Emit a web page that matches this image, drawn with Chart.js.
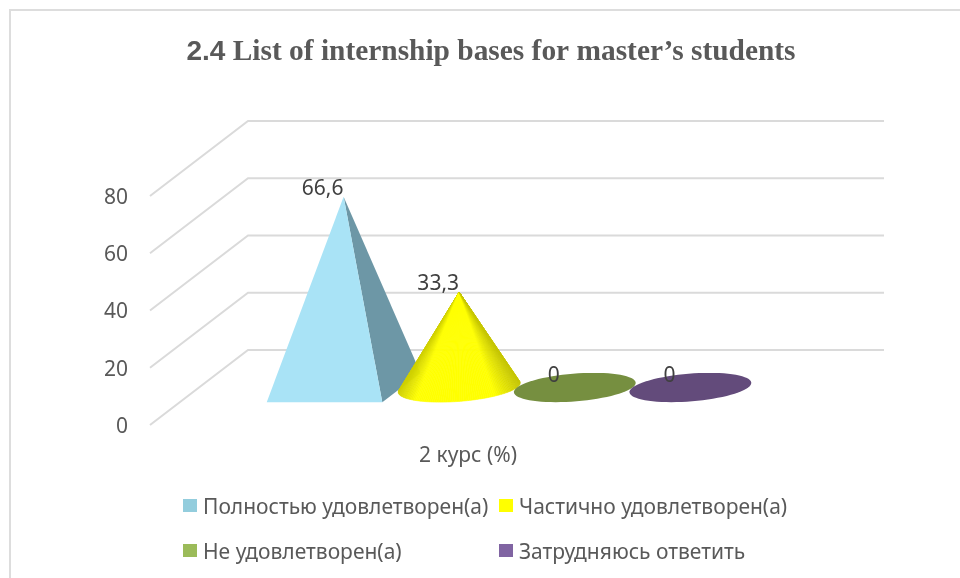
<!DOCTYPE html>
<html>
<head>
<meta charset="utf-8">
<title>2.4 List of internship bases</title>
<script src="https://cdn.jsdelivr.net/npm/chart.js@4/dist/chart.umd.min.js"></script>
<style>
    html, body { margin: 0; padding: 0; background: #fff; }
    canvas { display: block; }
</style>
</head>
<body>
<canvas id="chart" width="960" height="578"></canvas>
<script>
// Data
const titleNumber = '2.4';
const titleText = ' List of internship bases for master\u2019s students';
const categories = ['2 курс (%)'];
const seriesNames = ['Полностью удовлетворен(а)', 'Частично удовлетворен(а)', 'Не удовлетворен(а)', 'Затрудняюсь ответить'];
const seriesValues = [66.6, 33.3, 0, 0];
const legendColors = ['#93CDDD', '#FFFF00', '#9BBB59', '#8064A2'];
const shapeColors = ['#A9E3F6', '#FFFF00', '#768F40', '#634B7B'];
const tickValues = [0, 20, 40, 60, 80];

const uiFont = '"Noto Sans", sans-serif';
const textColor = '#595959';
const gridColor = '#DADADA';

// Wall depth: how far the back wall sits from the front plane
const depthX = 98;
const depthY = -75;
const baseDepth = 0.39; // part of the depth taken by a base

function drawFrame(ctx) {
    ctx.save();
    ctx.strokeStyle = '#DDDDDD';
    ctx.lineWidth = 2;
    ctx.beginPath();
    ctx.moveTo(10, 578);
    ctx.lineTo(10, 10);
    ctx.lineTo(960, 10);
    ctx.stroke();
    ctx.restore();
}

function drawTitle(ctx) {
    ctx.save();
    ctx.fillStyle = textColor;
    ctx.textBaseline = 'alphabetic';
    ctx.textAlign = 'left';
    const numFont = 'bold 28px "Liberation Sans", sans-serif';
    const txtFont = 'bold 29.4px "Liberation Serif", serif';
    ctx.font = numFont;
    const w1 = ctx.measureText(titleNumber).width;
    ctx.font = txtFont;
    const w2 = ctx.measureText(titleText).width;
    const x = 491 - (w1 + w2) / 2;
    ctx.font = numFont;
    ctx.fillText(titleNumber, x, 60);
    ctx.font = txtFont;
    ctx.fillText(titleText, x + w1, 60);
    ctx.restore();
}

function drawWalls(chart) {
    const ctx = chart.ctx;
    const y = chart.scales.y;
    const area = chart.chartArea;
    ctx.save();
    ctx.strokeStyle = gridColor;
    ctx.lineWidth = 2;
    tickValues.forEach(v => {
        const py = y.getPixelForValue(v);
        ctx.beginPath();
        ctx.moveTo(area.left, py);
        ctx.lineTo(area.left + depthX, py + depthY);
        ctx.lineTo(area.right + depthX, py + depthY);
        ctx.stroke();
    });
    ctx.restore();
}

function drawPyramid(ctx, c, top, u, v, color) {
    const fl = [c.x - u.x - v.x, c.y - u.y - v.y];
    const fr = [c.x + u.x - v.x, c.y + u.y - v.y];
    const br = [c.x + u.x + v.x, c.y + u.y + v.y];
    ctx.fillStyle = '#6D97A6';
    ctx.beginPath();
    ctx.moveTo(fr[0], fr[1]);
    ctx.lineTo(br[0], br[1]);
    ctx.lineTo(c.x, top);
    ctx.closePath();
    ctx.fill();
    ctx.fillStyle = color;
    ctx.beginPath();
    ctx.moveTo(fl[0], fl[1]);
    ctx.lineTo(fr[0], fr[1]);
    ctx.lineTo(c.x, top);
    ctx.closePath();
    ctx.fill();
}

// Base circle projected on the floor: c + cos(t)*u + sin(t)*v
function ellipsePoint(c, u, v, t) {
    return [c.x + Math.cos(t) * u.x + Math.sin(t) * v.x, c.y + Math.cos(t) * u.y + Math.sin(t) * v.y];
}

// Shading of the cone side, f goes from left (0) to right (1)
function coneShade(f) {
    let k = 1;
    if (f < 0.14) k = 0.82 + 0.18 * f / 0.14;
    if (f > 0.8) k = 1 - 0.22 * (f - 0.8) / 0.2;
    return 'rgb(' + Math.round(255 * k) + ',' + Math.round(255 * k) + ',0)';
}

function drawCone(ctx, c, top, u, v) {
    const b = (top - c.y) / v.y;
    const a = -b * v.x / u.x;
    const theta = Math.atan2(b, a);
    const spread = Math.acos(1 / Math.hypot(a, b));
    const from = theta + spread;
    const to = theta + Math.PI * 2 - spread;
    const start = ellipsePoint(c, u, v, from)[0];
    const end = ellipsePoint(c, u, v, to)[0];
    const steps = 90;
    ctx.lineWidth = 0.6;
    for (let i = 0; i < steps; i++) {
        const p = ellipsePoint(c, u, v, from + (to - from) * i / steps);
        const q = ellipsePoint(c, u, v, from + (to - from) * (i + 1) / steps);
        const color = coneShade(((p[0] + q[0]) / 2 - start) / (end - start));
        ctx.fillStyle = color;
        ctx.strokeStyle = color;
        ctx.beginPath();
        ctx.moveTo(p[0], p[1]);
        ctx.lineTo(q[0], q[1]);
        ctx.lineTo(c.x, top);
        ctx.closePath();
        ctx.fill();
        ctx.stroke();
    }
}

function drawDisc(ctx, c, u, v, color) {
    ctx.fillStyle = color;
    ctx.beginPath();
    for (let i = 0; i < 72; i++) {
        const p = ellipsePoint(c, u, v, Math.PI * 2 * i / 72);
        if (i === 0) ctx.moveTo(p[0], p[1]); else ctx.lineTo(p[0], p[1]);
    }
    ctx.closePath();
    ctx.fill();
}

function drawValueLabel(ctx, text, x, y) {
    ctx.fillStyle = '#404040';
    ctx.font = '21px ' + uiFont;
    ctx.textAlign = 'center';
    ctx.textBaseline = 'middle';
    ctx.fillText(text, x, y);
}

const shapes3d = {
    id: 'shapes3d',
    afterLayout(chart) {
        // Noto Sans sits high on a middle baseline, nudge the y tick labels down
        chart.scales.y.getLabelItems().forEach(item => {
            item.options.translation[1] += 2;
        });
    },
    beforeDatasetsDraw(chart) {
        drawFrame(chart.ctx);
        drawTitle(chart.ctx);
        drawWalls(chart);
    },
    afterDatasetsDraw(chart) {
        const ctx = chart.ctx;
        ctx.save();
        const bars = chart.data.datasets.map((ds, i) => chart.getDatasetMeta(i).data[0]);
        bars.forEach((bar, i) => {
            const u = { x: bar.width / 2, y: 0 };
            const v = { x: depthX * baseDepth / 2, y: depthY * baseDepth / 2 };
            const c = { x: bar.x + depthX / 2, y: bar.base + depthY / 2 };
            const top = bar.y + depthY / 2;
            if (seriesValues[i] === 0) drawDisc(ctx, c, u, v, shapeColors[i]);
            else if (i === 0) drawPyramid(ctx, c, top, u, v, shapeColors[i]);
            else drawCone(ctx, c, top, u, v);
        });
        bars.forEach((bar, i) => {
            const text = String(seriesValues[i]).replace('.', ',');
            const lift = seriesValues[i] === 0 ? 11 : 8;
            drawValueLabel(ctx, text, bar.x + depthX / 2 - 21, bar.y + depthY / 2 - lift);
        });
        ctx.restore();
    },
    afterDraw(chart) {
        // Legend on a fixed two by two grid
        const ctx = chart.ctx;
        const cols = [183, 499];
        const rows = [506, 551];
        ctx.save();
        ctx.font = '21px ' + uiFont;
        ctx.textAlign = 'left';
        ctx.textBaseline = 'middle';
        chart.data.datasets.forEach((ds, i) => {
            const x = cols[i % 2];
            const y = rows[Math.floor(i / 2)];
            ctx.fillStyle = legendColors[i];
            ctx.fillRect(x, y - 7, 14, 13);
            ctx.fillStyle = textColor;
            ctx.fillText(ds.label, x + 20, y + 2);
        });
        ctx.restore();
    }
};

new Chart(document.getElementById('chart'), {
    type: 'bar',
    data: {
        labels: categories,
        datasets: seriesNames.map((name, i) => ({
            label: name,
            data: [seriesValues[i]],
            backgroundColor: 'rgba(0,0,0,0)'
        }))
    },
    options: {
        responsive: false,
        animation: false,
        layout: { padding: { left: 100, right: 174, top: 196, bottom: 93 } },
        categoryPercentage: 0.727,
        barPercentage: 1,
        plugins: { legend: { display: false }, title: { display: false }, tooltip: { enabled: false } },
        scales: {
            x: {
                afterFit(scale) { scale.height = 60; },
                grid: { display: false },
                border: { display: false },
                ticks: { color: textColor, padding: 10, font: { family: uiFont, size: 21 } }
            },
            y: {
                min: 0,
                max: 80,
                afterFit(scale) { scale.width = 50; },
                afterBuildTicks(scale) { scale.ticks = tickValues.map(v => ({ value: v })); },
                grid: { display: false },
                border: { display: false },
                ticks: { color: textColor, padding: 14, font: { family: uiFont, size: 21 } }
            }
        }
    },
    plugins: [shapes3d]
});
</script>
</body>
</html>
